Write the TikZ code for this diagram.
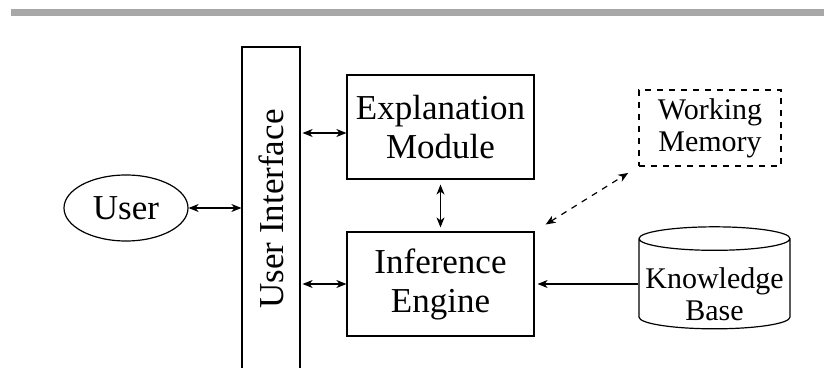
\documentclass[tikz,border=0pt]{standalone}
\usepackage{fontspec}
\setmainfont{Liberation Serif}
\usepackage{tikz}
\usetikzlibrary{arrows.meta,shapes.geometric}
\definecolor{barGray}{RGB}{168,168,168}
\begin{document}
\begin{tikzpicture}[x=0.5pt,y=-0.5pt,line width=0.6pt,
  box/.style={draw,rectangle,align=center,inner sep=0pt,font=\fontsize{17.5}{19.5}\selectfont},
  smallbox/.style={box,font=\fontsize{15}{16}\selectfont},
  biarrow/.style={{Stealth[length=5pt,width=4pt,inset=1.5pt]}-{Stealth[length=5pt,width=4pt,inset=1.5pt]}},
  onearrow/.style={-{Stealth[length=5pt,width=4pt,inset=1.5pt]}}]
\clip (0,0) rectangle (824,368);
\fill[barGray] (11,9) rectangle (824,16);
\node[box,ellipse,minimum width=62pt,minimum height=33pt] (user) at (126,208) {User};
\node[box,rotate=90,minimum width=162pt,minimum height=29pt] (ui) at (271,209) {User Interface};
\node[box,minimum width=93.5pt,minimum height=52pt] (expl) at (440.5,127) {Explanation\\Module};
\node[box,minimum width=93.5pt,minimum height=52pt] (inf) at (440.5,284) {Inference\\Engine};
\node[smallbox,dashed,minimum width=71pt,minimum height=38pt] (wm) at (710,128) {Working\\Memory};
\node[smallbox,cylinder,shape border rotate=90,aspect=0.17,minimum width=75.5pt,minimum height=51pt,align=none] (kb) at (714.5,284)
  {\raisebox{-10.5pt}[0pt][0pt]{\begin{tabular}{@{}c@{}}Knowledge\\Base\end{tabular}}};
\draw[biarrow] (user.east) -- (user.east -| ui.north);
\draw[biarrow,shorten <=1pt] ([yshift=-3pt]expl.west -| ui.south) -- ([yshift=-3pt]expl.west);
\draw[biarrow,shorten <=1pt] (inf.west -| ui.south) -- (inf.west);
\draw[biarrow,shorten <=2.5pt,shorten >=2pt] (expl) -- (inf);
\draw[biarrow,dashed,shorten <=6.5pt,shorten >=6pt] (inf.north east) -- (wm.south west);
\draw[onearrow,shorten >=1.5pt] (kb.west) -- (kb.west -| inf.east);
\end{tikzpicture}
\end{document}
